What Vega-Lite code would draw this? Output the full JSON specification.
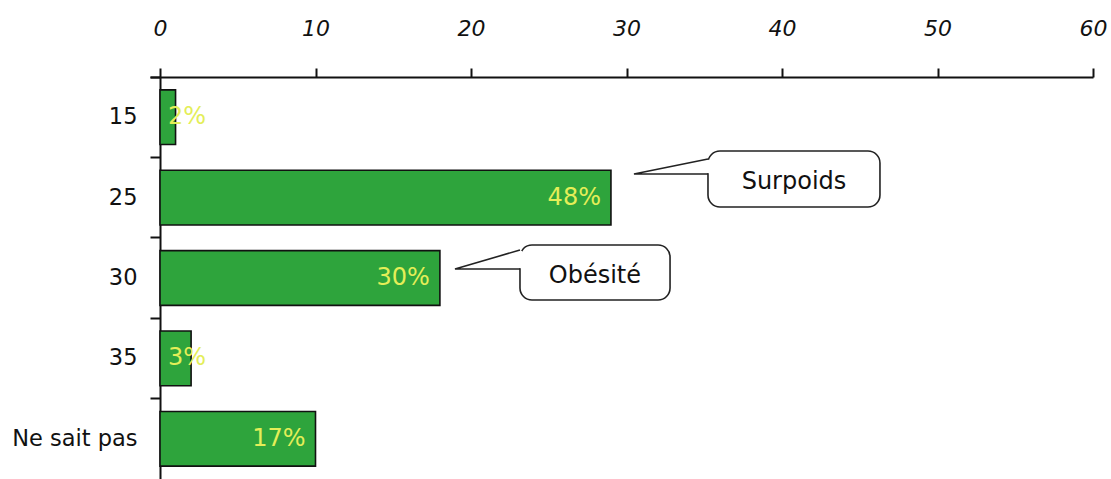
{
  "$schema": "https://vega.github.io/schema/vega-lite/v6.json",
  "width": 933,
  "height": 402,
  "autosize": {"type": "none"},
  "padding": {"left": 160, "top": 77, "right": 18, "bottom": 0},
  "background": "white",
  "config": {
    "view": {"stroke": null},
    "font": "DejaVu Sans"
  },
  "datasets": {
    "bars": [
      {"cat": "15", "n": 1, "pct": "2%"},
      {"cat": "25", "n": 29, "pct": "48%"},
      {"cat": "30", "n": 18, "pct": "30%"},
      {"cat": "35", "n": 2, "pct": "3%"},
      {"cat": "Ne sait pas", "n": 10, "pct": "17%"}
    ],
    "boxes": [
      {"name": "Surpoids", "x1": 35.24, "x2": 46.3, "y1": 0.92, "y2": 1.617, "lx": 40.77, "ly": 1.306, "tx": 35.24, "ty1": 1.03, "ty2": 1.196},
      {"name": "Obésité", "x1": 23.15, "x2": 32.8, "y1": 2.09, "y2": 2.774, "lx": 27.97, "ly": 2.475, "tx": 23.15, "ty1": 2.162, "ty2": 2.378}
    ],
    "tails": [
      {"name": "Surpoids", "ord": 1, "x": 35.24, "y": 1.02},
      {"name": "Surpoids", "ord": 2, "x": 30.48, "y": 1.206},
      {"name": "Surpoids", "ord": 3, "x": 35.24, "y": 1.206},
      {"name": "Obésité", "ord": 1, "x": 23.15, "y": 2.152},
      {"name": "Obésité", "ord": 2, "x": 18.97, "y": 2.388},
      {"name": "Obésité", "ord": 3, "x": 23.15, "y": 2.388}
    ]
  },
  "resolve": {"scale": {"y": "independent"}, "axis": {"y": "independent"}},
  "layer": [
    {
      "data": {"name": "bars"},
      "encoding": {
        "y": {
          "field": "cat", "type": "nominal", "sort": null,
          "scale": {"paddingInner": 0, "paddingOuter": 0},
          "axis": {
            "title": null, "bandPosition": 0, "tickExtra": true,
            "domainColor": "#111111", "domainWidth": 2, "tickColor": "#111111", "tickWidth": 2, "tickSize": 10,
            "labelFontSize": 22.5, "labelColor": "#111111", "labelPadding": 13, "labelFont": "DejaVu Sans"
          }
        }
      },
      "layer": [
        {
          "mark": {"type": "bar", "color": "#2ea43c", "stroke": "#111111", "strokeWidth": 1.6, "height": {"band": 0.68}},
          "encoding": {
            "x": {
              "field": "n", "type": "quantitative",
              "scale": {"domain": [0, 60], "nice": false},
              "axis": {
                "orient": "top", "title": null, "values": [0, 10, 20, 30, 40, 50, 60], "grid": false,
                "domainColor": "#111111", "domainWidth": 2, "tickColor": "#111111", "tickWidth": 2, "tickSize": 9,
                "labelFontSize": 22, "labelFontStyle": "italic", "labelColor": "#111111", "labelPadding": 28,
                "labelFont": "DejaVu Sans", "labelFlush": false
              }
            }
          }
        },
        {
          "transform": [{"filter": "datum.n > 5"}],
          "mark": {"type": "text", "align": "right", "baseline": "middle", "dx": -10, "fontSize": 24, "color": "#e4ee58"},
          "encoding": {
            "x": {"field": "n", "type": "quantitative"},
            "text": {"field": "pct"}
          }
        },
        {
          "transform": [{"filter": "datum.n <= 5"}],
          "mark": {"type": "text", "align": "left", "baseline": "middle", "dx": 8, "fontSize": 24, "color": "#e4ee58"},
          "encoding": {
            "x": {"datum": 0, "type": "quantitative"},
            "text": {"field": "pct"}
          }
        }
      ]
    },
    {
      "encoding": {
        "y": {"type": "quantitative", "scale": {"domain": [0, 5], "reverse": true, "nice": false, "zero": false}, "axis": null}
      },
      "layer": [
        {
          "data": {"name": "boxes"},
          "mark": {"type": "rect", "fill": "white", "stroke": "#222222", "strokeWidth": 1.6, "cornerRadius": 12},
          "encoding": {
            "x": {"field": "x1", "type": "quantitative"},
            "x2": {"field": "x2"},
            "y": {"field": "y1", "type": "quantitative"},
            "y2": {"field": "y2"}
          }
        },
        {
          "data": {"name": "boxes"},
          "mark": {"type": "rule", "stroke": "white", "strokeWidth": 4},
          "encoding": {
            "x": {"field": "tx", "type": "quantitative"},
            "y": {"field": "ty1", "type": "quantitative"},
            "y2": {"field": "ty2"}
          }
        },
        {
          "data": {"name": "tails"},
          "mark": {"type": "line", "stroke": "#222222", "strokeWidth": 1.6, "strokeJoin": "miter"},
          "encoding": {
            "x": {"field": "x", "type": "quantitative"},
            "y": {"field": "y", "type": "quantitative"},
            "detail": {"field": "name"},
            "order": {"field": "ord"}
          }
        },
        {
          "data": {"name": "boxes"},
          "mark": {"type": "text", "align": "center", "baseline": "middle", "fontSize": 24, "color": "#111111"},
          "encoding": {
            "x": {"field": "lx", "type": "quantitative"},
            "y": {"field": "ly", "type": "quantitative"},
            "text": {"field": "name"}
          }
        }
      ]
    }
  ]
}
